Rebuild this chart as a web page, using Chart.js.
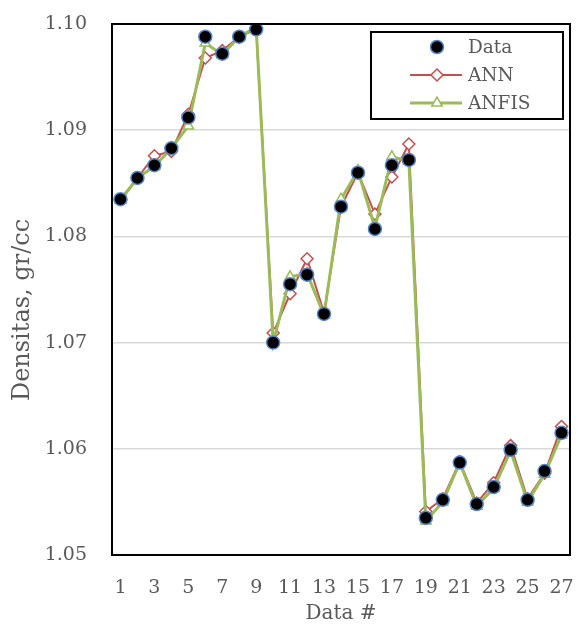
<!DOCTYPE html>
<html>
<head>
<meta charset="utf-8">
<script src="https://cdn.jsdelivr.net/npm/chart.js@4.4.1/dist/chart.umd.min.js"></script>
<style>
  html, body { margin: 0; padding: 0; background: #ffffff; }
  #wrap { width: 578px; height: 626px; }
</style>
</head>
<body>
<div id="wrap"><canvas id="c" width="578" height="626"></canvas></div>
<script>
const categories = ['1','2','3','4','5','6','7','8','9','10','11','12','13','14','15','16','17','18','19','20','21','22','23','24','25','26','27'];
const dataValues = [1.0835,1.0855,1.0867,1.0883,1.0912,1.0988,1.0972,1.0988,1.0995,1.0700,1.0755,1.0764,1.0727,1.0828,1.0860,1.0807,1.0867,1.0872,1.0535,1.0552,1.0587,1.0548,1.0564,1.0599,1.0552,1.0579,1.0615];
const annValues = [1.0835,1.0855,1.0876,1.0880,1.0915,1.0968,1.0975,1.0988,1.0995,1.0709,1.0746,1.0779,1.0728,1.0828,1.0860,1.0821,1.0856,1.0887,1.0541,1.0553,1.0588,1.0549,1.0568,1.0603,1.0553,1.0577,1.0621];
const anfisValues = [1.0834,1.0855,1.0866,1.0883,1.0904,1.0982,1.0971,1.0988,1.0997,1.0700,1.0762,1.0765,1.0726,1.0835,1.0862,1.0808,1.0875,1.0871,1.0532,1.0550,1.0587,1.0546,1.0563,1.0598,1.0550,1.0576,1.0613];
const yTicks = [1.05, 1.06, 1.07, 1.08, 1.09, 1.10];
const seriesNames = ['Data', 'ANN', 'ANFIS'];
const xTitle = 'Data #';
const yTitle = 'Densitas, gr/cc';

const FONT = "'DejaVu Serif', serif";
const TXT = '#595959';

const framePlugin = {
  id: 'frameLegend',
  afterDraw(chart) {
    const ctx = chart.ctx;
    const a = chart.chartArea;
    ctx.save();
    ctx.strokeStyle = '#000000';
    ctx.lineWidth = 2;
    ctx.strokeRect(a.left, a.top, a.right - a.left, a.bottom - a.top);

    // axis titles
    ctx.fillStyle = TXT;
    ctx.textAlign = 'center';
    ctx.textBaseline = 'middle';
    ctx.font = "20px " + FONT;
    ctx.fillText(xTitle, (a.left + a.right) / 2, 614);
    ctx.save();
    ctx.translate(23, 310);
    ctx.rotate(-Math.PI / 2);
    ctx.font = "24px " + FONT;
    ctx.fillText(yTitle, 0, 0);
    ctx.restore();

    // legend box
    const bx = 371, by = 32, bw = 192, bh = 87;
    ctx.fillStyle = '#ffffff';
    ctx.fillRect(bx, by, bw, bh);
    ctx.lineWidth = 2;
    ctx.strokeStyle = '#000000';
    ctx.strokeRect(bx, by, bw, bh);

    const rows = [47, 75, 103];
    const order = [0, 1, 2];
    const symX = 437, lineL = 410, lineR = 462, textX = 468;
    ctx.font = "18.5px " + FONT;
    ctx.textBaseline = 'middle';
    ctx.textAlign = 'left';
    order.forEach((di, i) => {
      const ds = chart.data.datasets[di];
      const y = rows[i];
      if (ds.showLine !== false) {
        ctx.strokeStyle = ds.borderColor;
        ctx.lineWidth = ds.borderWidth;
        ctx.beginPath();
        ctx.moveTo(lineL, y);
        ctx.lineTo(lineR, y);
        ctx.stroke();
      }
      ctx.fillStyle = ds.pointBackgroundColor;
      ctx.strokeStyle = ds.pointBorderColor;
      ctx.lineWidth = ds.pointBorderWidth;
      Chart.helpers.drawPoint(ctx, { pointStyle: ds.pointStyle, radius: ds.pointRadius, rotation: 0, borderWidth: ds.pointBorderWidth }, symX, y);
      ctx.fillStyle = TXT;
      ctx.fillText(ds.label, textX, y + 1);
    });
    ctx.restore();
  }
};

new Chart(document.getElementById('c'), {
  type: 'line',
  data: {
    labels: categories,
    datasets: [
      {
        label: seriesNames[0],
        data: dataValues,
        showLine: false,
        pointStyle: 'circle',
        pointRadius: 6.5,
        pointBackgroundColor: '#000000',
        pointBorderColor: '#5585C5',
        pointBorderWidth: 1.5,
        borderColor: '#5585C5',
        order: 0
      },
      {
        label: seriesNames[1],
        data: annValues,
        borderColor: '#C0504D',
        borderWidth: 2,
        pointStyle: 'rectRot',
        pointRadius: 6,
        pointBackgroundColor: '#ffffff',
        pointBorderColor: '#C0504D',
        pointBorderWidth: 1.5,
        tension: 0,
        order: 2
      },
      {
        label: seriesNames[2],
        data: anfisValues,
        borderColor: '#9BBB59',
        borderWidth: 3,
        pointStyle: 'triangle',
        pointRadius: 6,
        pointBackgroundColor: '#ffffff',
        pointBorderColor: '#9BBB59',
        pointBorderWidth: 1.5,
        tension: 0,
        order: 1
      }
    ]
  },
  options: {
    responsive: false,
    animation: false,
    layout: { padding: { top: 24, right: 5, left: 0, bottom: 0 } },
    plugins: { legend: { display: false }, tooltip: { enabled: false } },
    scales: {
      x: {
        offset: true,
        grid: { display: false, drawTicks: false },
        border: { display: false },
        ticks: {
          autoSkip: false,
          maxRotation: 0,
          padding: 22,
          color: TXT,
          font: { family: FONT, size: 19 },
          callback: function(v, i) { return i % 2 === 0 ? this.getLabelForValue(v) : ''; }
        },
        afterFit(s) { s.height = 71; s.paddingLeft = 0; s.paddingRight = 0; }
      },
      y: {
        min: 1.05,
        max: 1.10,
        afterBuildTicks(s) { s.ticks = yTicks.map(v => ({ value: v })); },
        grid: { color: '#D9D9D9', lineWidth: 1.5, drawTicks: false },
        border: { display: false },
        ticks: {
          padding: 25,
          color: TXT,
          font: { family: FONT, size: 19 },
          callback: v => Number(v).toFixed(2)
        },
        afterFit(s) { s.width = 112; s.paddingTop = 0; s.paddingBottom = 0; }
      }
    }
  },
  plugins: [framePlugin]
});
</script>
</body>
</html>
